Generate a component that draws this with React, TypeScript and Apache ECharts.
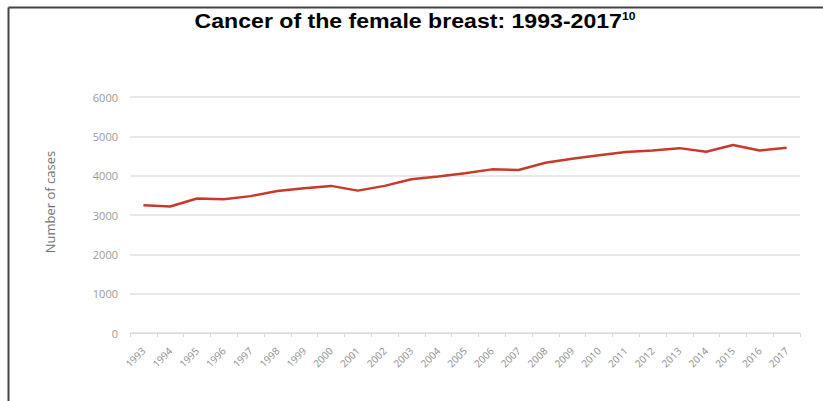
import React, { useEffect, useRef } from "react";
import * as echarts from "echarts";

const years: string[] = [
  "1993", "1994", "1995", "1996", "1997", "1998", "1999", "2000", "2001", "2002",
  "2003", "2004", "2005", "2006", "2007", "2008", "2009", "2010", "2011", "2012",
  "2013", "2014", "2015", "2016", "2017",
];
const cases: number[] = [
  3250, 3215, 3420, 3400, 3480, 3610, 3680, 3740, 3620, 3740,
  3910, 3980, 4060, 4160, 4145, 4330, 4430, 4520, 4600, 4640,
  4700, 4610, 4780, 4640, 4710,
];
const yTicks: number[] = [0, 1000, 2000, 3000, 4000, 5000, 6000];

export default function App() {
  const ref = useRef<HTMLDivElement>(null);
  useEffect(() => {
    if (!ref.current) return;
    const chart = echarts.init(ref.current, undefined, { renderer: "svg" });
    chart.setOption({
      animation: false,
      backgroundColor: "#ffffff",
      graphic: [
        { type: "line", shape: { x1: 8.5, y1: 7.5, x2: 823, y2: 7.5 }, style: { stroke: "#444", lineWidth: 2 } },
        { type: "line", shape: { x1: 8.5, y1: 7.5, x2: 8.5, y2: 401 }, style: { stroke: "#444", lineWidth: 2 } },
        {
          type: "text",
          x: 415,
          y: 21,
          scaleX: 1.1,
          style: {
            text: "{t|Cancer of the female breast: 1993-2017}{s|10}",
            align: "center",
            verticalAlign: "middle",
            rich: {
              t: { fontFamily: "Liberation Sans, Arial, sans-serif", fontWeight: "bold", fontSize: 21, fill: "#000" },
              s: { fontFamily: "Liberation Sans, Arial, sans-serif", fontWeight: "bold", fontSize: 11, fill: "#000", verticalAlign: "top", padding: [0, 0, 9, 0] },
            },
          },
        },
        {
          type: "text",
          x: 50,
          y: 202,
          rotation: Math.PI / 2,
          style: {
            text: "Number of cases",
            align: "center",
            verticalAlign: "middle",
            fontFamily: "Open Sans, sans-serif",
            fontSize: 13,
            fill: "#707070",
          },
        },
      ],
      grid: { left: 130, right: 23, top: 97, bottom: 68 },
      xAxis: {
        type: "category",
        data: years,
        boundaryGap: true,
        axisLine: { lineStyle: { color: "#d9d9d9", width: 1 } },
        axisTick: { show: true, lineStyle: { color: "#d9d9d9" }, length: 4 },
        axisLabel: {
          rotate: 45,
          interval: 0,
          color: "#8c8c8c",
          fontSize: 10,
          fontFamily: "Open Sans, sans-serif",
          margin: 16,
        },
      },
      yAxis: {
        type: "value",
        min: yTicks[0],
        max: yTicks[yTicks.length - 1],
        interval: 1000,
        axisLine: { show: false },
        axisTick: { show: false },
        axisLabel: {
          color: "#999999",
          fontSize: 11,
          fontFamily: "Open Sans, sans-serif",
          margin: 12,
          formatter: (v: number) => String(v),
        },
        splitLine: { lineStyle: { color: "#e0e0e0", width: 1.5 } },
      },
      series: [
        {
          type: "line",
          data: cases,
          symbol: "none",
          lineStyle: { color: "#c9392b", width: 2.5 },
          itemStyle: { color: "#c9392b" },
        },
      ],
    });
    return () => chart.dispose();
  }, []);
  return <div ref={ref} style={{ width: 823, height: 401, position: "absolute", left: 0, top: 0 }} />;
}
